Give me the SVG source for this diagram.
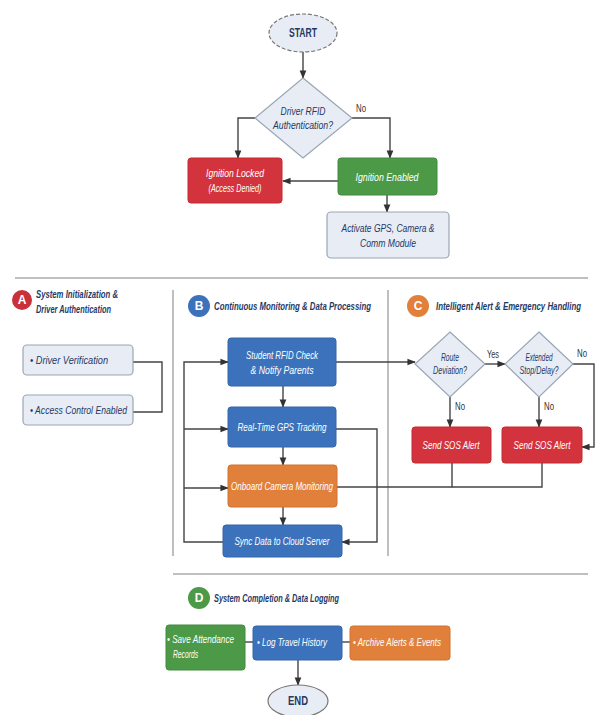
<svg xmlns="http://www.w3.org/2000/svg" width="598" height="715" viewBox="0 0 598 715">
<defs>
<marker id="ah" viewBox="0 0 10 10" refX="9" refY="5" markerWidth="6" markerHeight="6" orient="auto-start-reverse"><path d="M0,1 L10,5 L0,9 z" fill="#333"/></marker>
<style>
text{font-family:"Liberation Sans","Open Sans",Arial,sans-serif;}
.w{fill:#fff;font-size:11.5px;font-style:italic;}
.n{fill:#1f3864;font-size:11.5px;font-style:italic;}
.t{fill:#1f3864;font-size:11.5px;font-style:italic;font-weight:bold;}
.lbl{fill:#333;font-size:10px;}
.red{fill:#d3333d;stroke:#c42a33;}
.grn{fill:#4c9a47;stroke:#438a3f;}
.blu{fill:#3b72bb;stroke:#3466aa;}
.org{fill:#e1803a;stroke:#d07230;}
.lt{fill:#e8edf5;stroke:#9aa5b5;stroke-width:1.2;}
.c{fill:none;stroke:#444;stroke-width:1.4;}
.sep{fill:none;stroke:#aaa;stroke-width:1.5;}
.badge{fill:#fff;font-size:12px;font-weight:bold;}
</style>
</defs>
<g id="separators">
<line class="sep" x1="15" y1="278" x2="588" y2="278"/>
<line class="sep" x1="173" y1="290" x2="173" y2="556"/>
<line class="sep" x1="388" y1="290" x2="388" y2="556"/>
<line class="sep" x1="173" y1="574" x2="588" y2="574"/>
</g>
<g id="connectors">
<line class="c" x1="303" y1="52" x2="303" y2="78" marker-end="url(#ah)"/>
<polyline class="c" points="255,118 238,118 238,158" marker-end="url(#ah)"/>
<polyline class="c" points="352,118 390,118 390,158" marker-end="url(#ah)"/>
<line class="c" x1="338" y1="181" x2="283" y2="181" marker-end="url(#ah)"/>
<line class="c" x1="387" y1="195" x2="387" y2="212" marker-end="url(#ah)"/>
<polyline class="c" points="133,362 162,362 162,412 133,412"/>
<polyline class="c" points="223,542 184,542 184,362 228,362" marker-end="url(#ah)"/>
<line class="c" x1="184" y1="429" x2="228" y2="429" marker-end="url(#ah)"/>
<line class="c" x1="184" y1="488" x2="228" y2="488" marker-end="url(#ah)"/>
<line class="c" x1="283" y1="386" x2="283" y2="407" marker-end="url(#ah)"/>
<line class="c" x1="283" y1="447" x2="283" y2="465" marker-end="url(#ah)"/>
<line class="c" x1="283" y1="507" x2="283" y2="525" marker-end="url(#ah)"/>
<polyline class="c" points="336,429 377,429 377,542 342,542" marker-end="url(#ah)"/>
<line class="c" x1="336" y1="362" x2="415" y2="362" marker-end="url(#ah)"/>
<line class="c" x1="485" y1="364" x2="505" y2="364" marker-end="url(#ah)"/>
<line class="c" x1="450" y1="397" x2="450" y2="427" marker-end="url(#ah)"/>
<line class="c" x1="539" y1="397" x2="539" y2="427" marker-end="url(#ah)"/>
<polyline class="c" points="573,364 594,364 594,447 582,447" marker-end="url(#ah)"/>
<polyline class="c" points="452,463 452,487 337,487"/>
<polyline class="c" points="542,463 542,487 452,487"/>
<line class="c" x1="245" y1="642" x2="253" y2="642"/>
<line class="c" x1="342" y1="642" x2="350" y2="642"/>
<line class="c" x1="298" y1="660" x2="298" y2="685" marker-end="url(#ah)"/>
<text class="lbl" x="356" y="112" textLength="10" lengthAdjust="spacingAndGlyphs">No</text>
<text class="lbl" x="487" y="358" textLength="12" lengthAdjust="spacingAndGlyphs">Yes</text>
<text class="lbl" x="577" y="357" textLength="10" lengthAdjust="spacingAndGlyphs">No</text>
<text class="lbl" x="455" y="410" textLength="10" lengthAdjust="spacingAndGlyphs">No</text>
<text class="lbl" x="544" y="410" textLength="10" lengthAdjust="spacingAndGlyphs">No</text>
</g>
<g id="start">
<ellipse cx="303" cy="33" rx="34" ry="19" fill="#e8edf5" stroke="#777" stroke-width="1.2" stroke-dasharray="4 2"/>
<text x="303" y="37" text-anchor="middle" textLength="28" lengthAdjust="spacingAndGlyphs" style="fill:#1f3864;font-size:12px;font-weight:bold;">START</text>
</g>
<g id="driver-rfid">
<polygon class="lt" points="303,78 352,118 303,158 255,118"/>
<text class="n" x="303" y="115" text-anchor="middle" textLength="45" lengthAdjust="spacingAndGlyphs">Driver RFID</text>
<text class="n" x="303" y="129" text-anchor="middle" textLength="60" lengthAdjust="spacingAndGlyphs">Authentication?</text>
</g>
<g id="ignition-locked">
<rect class="red" x="188" y="158" width="94" height="45" rx="3"/>
<text class="w" x="235" y="177" text-anchor="middle" textLength="58" lengthAdjust="spacingAndGlyphs">Ignition Locked</text>
<text class="w" x="235" y="192" text-anchor="middle" textLength="53" lengthAdjust="spacingAndGlyphs" style="font-size:10px">(Access Denied)</text>
</g>
<g id="ignition-enabled">
<rect class="grn" x="338" y="158" width="99" height="37" rx="3"/>
<text class="w" x="387" y="181" text-anchor="middle" textLength="63" lengthAdjust="spacingAndGlyphs">Ignition Enabled</text>
</g>
<g id="activate">
<rect class="lt" x="327" y="212" width="122" height="46" rx="4"/>
<text class="n" x="388" y="232" text-anchor="middle" textLength="93" lengthAdjust="spacingAndGlyphs">Activate GPS, Camera &amp;</text>
<text class="n" x="388" y="247" text-anchor="middle" textLength="56" lengthAdjust="spacingAndGlyphs">Comm Module</text>
</g>
<g id="section-a">
<circle cx="22" cy="300" r="10" fill="#c9303a"/>
<text class="badge" x="22" y="304" text-anchor="middle">A</text>
<text class="t" x="36" y="298" textLength="82" lengthAdjust="spacingAndGlyphs">System Initialization &amp;</text>
<text class="t" x="36" y="313" textLength="75" lengthAdjust="spacingAndGlyphs">Driver Authentication</text>
</g>
<g id="driver-verification">
<rect class="lt" x="23" y="345" width="110" height="30" rx="4"/>
<text class="n" x="30" y="364" textLength="78" lengthAdjust="spacingAndGlyphs">• Driver Verification</text>
</g>
<g id="access-control">
<rect class="lt" x="23" y="395" width="110" height="30" rx="4"/>
<text class="n" x="30" y="414" textLength="97" lengthAdjust="spacingAndGlyphs">• Access Control Enabled</text>
</g>
<g id="section-b">
<circle cx="199" cy="306" r="11" fill="#3b72bb"/>
<text class="badge" x="199" y="310" text-anchor="middle">B</text>
<text class="t" x="214" y="310" textLength="157" lengthAdjust="spacingAndGlyphs">Continuous Monitoring &amp; Data Processing</text>
</g>
<g id="student-rfid">
<rect class="blu" x="228" y="338" width="108" height="48" rx="3"/>
<text class="w" x="282" y="359" text-anchor="middle" textLength="72" lengthAdjust="spacingAndGlyphs">Student RFID Check</text>
<text class="w" x="282" y="374" text-anchor="middle" textLength="63" lengthAdjust="spacingAndGlyphs">&amp; Notify Parents</text>
</g>
<g id="gps">
<rect class="blu" x="228" y="407" width="108" height="40" rx="3"/>
<text class="w" x="282" y="431" text-anchor="middle" textLength="89" lengthAdjust="spacingAndGlyphs">Real-Time GPS Tracking</text>
</g>
<g id="camera">
<rect class="org" x="228" y="465" width="109" height="42" rx="3"/>
<text class="w" x="282" y="490" text-anchor="middle" textLength="102" lengthAdjust="spacingAndGlyphs">Onboard Camera Monitoring</text>
</g>
<g id="sync">
<rect class="blu" x="223" y="525" width="119" height="32" rx="3"/>
<text class="w" x="282" y="545" text-anchor="middle" textLength="95" lengthAdjust="spacingAndGlyphs">Sync Data to Cloud Server</text>
</g>
<g id="section-c">
<circle cx="418" cy="306" r="11" fill="#e1803a"/>
<text class="badge" x="418" y="310" text-anchor="middle">C</text>
<text class="t" x="436" y="310" textLength="145" lengthAdjust="spacingAndGlyphs">Intelligent Alert &amp; Emergency Handling</text>
</g>
<g id="route-deviation">
<polygon class="lt" points="450,332 485,364 450,397 415,364"/>
<text class="n" x="450" y="361" text-anchor="middle" textLength="18" lengthAdjust="spacingAndGlyphs" style="font-size:10px">Route</text>
<text class="n" x="450" y="374" text-anchor="middle" textLength="34" lengthAdjust="spacingAndGlyphs" style="font-size:10px">Deviation?</text>
</g>
<g id="extended-stop">
<polygon class="lt" points="539,332 573,364 539,397 505,364"/>
<text class="n" x="539" y="361" text-anchor="middle" textLength="27" lengthAdjust="spacingAndGlyphs" style="font-size:10px">Extended</text>
<text class="n" x="539" y="374" text-anchor="middle" textLength="39" lengthAdjust="spacingAndGlyphs" style="font-size:10px">Stop/Delay?</text>
</g>
<g id="sos-1">
<rect class="red" x="412" y="427" width="79" height="36" rx="3"/>
<text class="w" x="451" y="449" text-anchor="middle" textLength="57" lengthAdjust="spacingAndGlyphs">Send SOS Alert</text>
</g>
<g id="sos-2">
<rect class="red" x="502" y="427" width="80" height="36" rx="3"/>
<text class="w" x="542" y="449" text-anchor="middle" textLength="57" lengthAdjust="spacingAndGlyphs">Send SOS Alert</text>
</g>
<g id="section-d">
<circle cx="199" cy="598" r="11" fill="#4c9a47"/>
<text class="badge" x="199" y="602" text-anchor="middle">D</text>
<text class="t" x="214" y="602" textLength="125" lengthAdjust="spacingAndGlyphs">System Completion &amp; Data Logging</text>
</g>
<g id="save-attendance">
<rect class="grn" x="166" y="625" width="79" height="45" rx="3"/>
<text class="w" x="167" y="643" textLength="67" lengthAdjust="spacingAndGlyphs">• Save Attendance</text>
<text class="w" x="173" y="658" textLength="25" lengthAdjust="spacingAndGlyphs">Records</text>
</g>
<g id="log-travel">
<rect class="blu" x="253" y="626" width="89" height="34" rx="3"/>
<text class="w" x="257" y="646" textLength="70" lengthAdjust="spacingAndGlyphs">• Log Travel History</text>
</g>
<g id="archive">
<rect class="org" x="350" y="626" width="100" height="34" rx="3"/>
<text class="w" x="353" y="646" textLength="88" lengthAdjust="spacingAndGlyphs">• Archive Alerts &amp; Events</text>
</g>
<g id="end">
<ellipse cx="298" cy="701" rx="30" ry="16" fill="#e8edf5" stroke="#777" stroke-width="1.2"/>
<text x="298" y="705" text-anchor="middle" textLength="20" lengthAdjust="spacingAndGlyphs" style="fill:#1f3864;font-size:12px;font-weight:bold;">END</text>
</g>
</svg>
